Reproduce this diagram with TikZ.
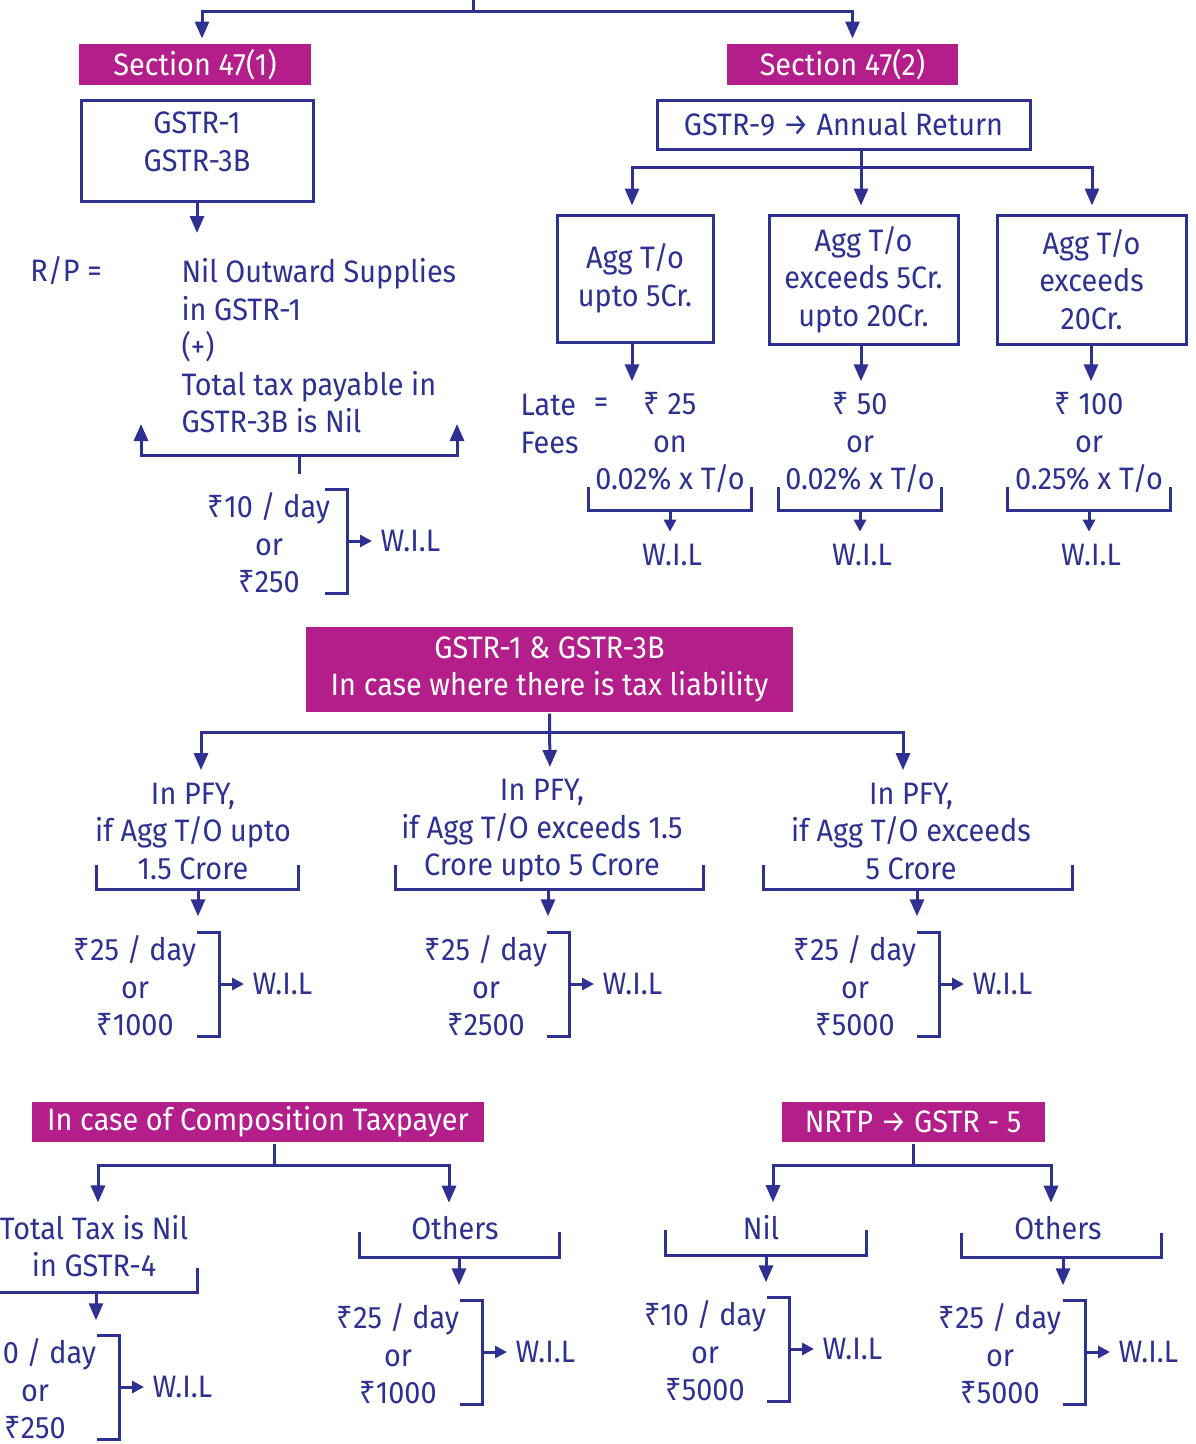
\documentclass[tikz,border=0pt]{standalone}
\usepackage{fontspec}
\setmainfont[FakeStretch=0.93]{Fira Sans}
\newfontfamily\rupeefont[FakeStretch=0.93]{Noto Sans}
\usetikzlibrary{positioning}
\usetikzlibrary{arrows.meta}
\definecolor{mblue}{RGB}{46,49,146}
\definecolor{mmag}{RGB}{179,30,138}
\newcommand{\rs}{{\rupeefont ₹}}
\newcommand{\txtsize}{\fontsize{31}{37.5}\selectfont}
\tikzset{every picture/.style={x=1pt, y=-1pt, color=mblue, line width=3pt}}
\tikzset{head/.style = {fill=mmag, text=white, align=center, inner sep=0, font=\txtsize}}
\tikzset{box/.style = {draw, align=center, inner sep=0, font=\txtsize}}
\tikzset{txt/.style = {align=center, inner sep=0, font=\txtsize}}
\tikzset{arr/.style = {-{Triangle[length=17pt, width=14pt]}}}
\tikzset{sarr/.style = {-{Triangle[length=12pt, width=12pt]}, shorten >=7pt}}
% fee block: name, x, y, bracket x, first line, last line
\newcommand{\fee}[6]{
    \node[txt] (#1) at (#2,#3) {#5\\or\\#6};
    \draw (#4-22,#3-54) -| (#4,#3+50) -- (#4-22,#3+50);
    \coordinate (#1b) at (#4,#3-2);
    \node[txt, anchor=west] (#1w) at (#4+32,#3-2) {W.I.L};
    \draw[sarr] (#1b) -- (#1w.west);
}

\begin{document}
\begin{tikzpicture}
    \useasboundingbox (0,0) rectangle (1196,1444);
    \clip (0,0) rectangle (1196,1444);

    % section 47
    \coordinate (top) at (473,0);
    \coordinate (jt) at (473,11);
    \node[head, minimum width=232pt, minimum height=41pt] (s1) at (195,64.5) {Section 47(1)};
    \node[head, minimum width=231pt, minimum height=41pt] (s2) at (842.5,64.5) {Section 47(2)};
    \draw (top) -- (jt);
    \draw[arr, shorten >=4pt] (jt) -| ([xshift=7pt]s1.north);
    \draw[arr, shorten >=4pt] (jt) -| ([xshift=10pt]s2.north);

    % left branch
    \node[box, minimum width=232pt, minimum height=101pt] (g1) at (197,150.5) {};
    \node[txt] (g1t) at (197,142) {GSTR-1\\GSTR-3B};
    \coordinate (g1e) at (197,233);
    \draw[arr] (g1) -- (g1e);
    \node[txt, anchor=west] (rp) at (29,271) {R/P =};
    \node[txt, align=left, anchor=west] (nil) at (180,346) {Nil Outward Supplies\\in GSTR-1\\(+)\\Total tax payable in\\GSTR-3B is Nil};
    \coordinate (nb) at (299,455);
    \coordinate (nl) at (141,424);
    \coordinate (nr) at (457,424);
    \draw[arr] (nb) -| (nl);
    \draw[arr] (nb) -| (nr);
    \draw (nb) -- (299,474);
    \fee{e0}{269}{543}{347}{\rs10 / day}{\rs250}

    % right branch
    \node[box, minimum width=373pt, minimum height=49pt] (g9) at (843.5,124.5) {GSTR-9 → Annual Return};
    \coordinate (j9) at (861,167);
    \node[box, minimum width=156pt, minimum height=127pt] (a1) at (635,278.5) {Agg T/o\\upto 5Cr.};
    \node[box, minimum width=189pt, minimum height=129pt] (a2) at (863.5,279.5) {Agg T/o\\exceeds 5Cr.\\upto 20Cr.};
    \node[box, minimum width=189pt, minimum height=129pt] (a3) at (1091.5,279.5) {Agg T/o\\exceeds\\20Cr.};
    \draw ([xshift=17.5pt]g9.south) -- (j9);
    \draw[arr, shorten >=8pt] (j9) -| ([xshift=-3pt]a1.north);
    \draw[arr, shorten >=8pt] (j9) -- ([xshift=-2.5pt]a2.north);
    \draw[arr, shorten >=8pt] (j9) -| ([xshift=0.5pt]a3.north);

    \node[txt, align=left, anchor=west] (late) at (519,424) {Late\\Fees};
    \node[txt] (eq) at (601,405) {=};
    \node[txt] (f1) at (670,443) {\rs\ 25\\on\\0.02\% x T/o};
    \node[txt] (f2) at (860,443) {\rs\ 50\\or\\0.02\% x T/o};
    \node[txt] (f3) at (1089,443) {\rs\ 100\\or\\0.25\% x T/o};
    \draw[arr, shorten >=10pt] ([xshift=-3pt]a1.south) -- ([xshift=-3pt]a1.south |- f1.north);
    \draw[arr, shorten >=10pt] ([xshift=-2.5pt]a2.south) -- ([xshift=-2.5pt]a2.south |- f2.north);
    \draw[arr, shorten >=10pt] ([xshift=-0.5pt]a3.south) -- ([xshift=-0.5pt]a3.south |- f3.north);

    \node[txt] (w1) at (672,555) {W.I.L};
    \node[txt] (w2) at (862,555) {W.I.L};
    \node[txt] (w3) at (1091,555) {W.I.L};
    \coordinate (b1) at (670,510);
    \coordinate (b2) at (860,510);
    \coordinate (b3) at (1089,510);
    \draw (588,487) |- (751,510) -- (751,487);
    \draw (778,487) |- (941,510) -- (941,487);
    \draw (1007,487) |- (1170,510) -- (1170,487);
    \draw[sarr, shorten >=11pt] (b1) -- (b1 |- w1.north);
    \draw[sarr, shorten >=11pt] (b2) -- (b2 |- w2.north);
    \draw[sarr, shorten >=11pt] (b3) -- (b3 |- w3.north);

    % tax liability
    \node[head, minimum width=487pt, minimum height=85pt] (m) at (549.5,669.5) {GSTR-1 \& GSTR-3B\\In case where there is tax liability};
    \coordinate (jm) at (550,732);
    \node[txt] (p1) at (193,831) {In PFY,\\if Agg T/O upto\\1.5 Crore};
    \node[txt] (p2) at (542,831) {In PFY,\\if Agg T/O exceeds 1.5\\Crore upto 5 Crore};
    \node[txt] (p3) at (911,831) {In PFY,\\if Agg T/O exceeds\\5 Crore};
    \draw[arr, shorten >=11pt] (m.south) -- ([xshift=8pt]p2.north);
    \draw[arr, shorten >=11pt] (jm) -| ([xshift=8pt]p1.north);
    \draw[arr, shorten >=11pt] (jm) -| ([xshift=-8pt]p3.north);
    \draw (96,865) |- (298,889) -- (298,865);
    \draw (395,865) |- (703,889) -- (703,865);
    \draw (763,865) |- (1072,889) -- (1072,865);
    \coordinate (q1) at (198,889);
    \coordinate (q2) at (548,889);
    \coordinate (q3) at (917,889);
    \fee{e1}{135}{986}{219}{\rs25 / day}{\rs1000}
    \fee{e2}{486}{986}{569}{\rs25 / day}{\rs2500}
    \fee{e3}{855}{986}{939}{\rs25 / day}{\rs5000}
    \draw[arr, shorten >=18pt] (q1) -- (q1 |- e1.north);
    \draw[arr, shorten >=18pt] (q2) -- (q2 |- e2.north);
    \draw[arr, shorten >=18pt] (q3) -- (q3 |- e3.north);

    % composition taxpayer
    \node[head, minimum width=452pt, minimum height=40pt] (c) at (258,1122) {In case of Composition Taxpayer};
    \coordinate (jc) at (274,1165);
    \node[txt] (t1) at (94,1246) {Total Tax is Nil\\in GSTR-4};
    \node[txt] (t2) at (455,1228) {Others};
    \draw ([xshift=16pt]c.south) -- (jc);
    \draw[arr, shorten >=11pt] (jc) -| ([xshift=4pt]t1.north);
    \draw[arr, shorten >=12pt] (jc) -| ([xshift=-6pt]t2.north);
    \draw (197,1268) |- (-5,1292);
    \draw (359,1232) |- (559,1257) -- (559,1232);
    \coordinate (r1) at (96,1292);
    \coordinate (r2) at (459,1257);
    \fee{e4}{35}{1389}{119}{\rs10 / day}{\rs250}
    \fee{e5}{398}{1354}{482}{\rs25 / day}{\rs1000}
    \draw[arr, shorten >=17pt] (r1) -- (r1 |- e4.north);
    \draw[arr, shorten >=17pt] (r2) -- (r2 |- e5.north);

    % NRTP
    \node[head, minimum width=263pt, minimum height=40pt] (n) at (913,1122) {NRTP → GSTR - 5};
    \coordinate (jn) at (913,1165);
    \node[txt] (t3) at (761,1228) {Nil};
    \node[txt] (t4) at (1058,1228) {Others};
    \draw (n.south) -- (jn);
    \draw[arr, shorten >=12pt] (jn) -| ([xshift=12pt]t3.north);
    \draw[arr, shorten >=12pt] (jn) -| ([xshift=-7pt]t4.north);
    \draw (665,1230) |- (866,1255) -- (866,1230);
    \draw (961,1233) |- (1161,1257) -- (1161,1233);
    \coordinate (r3) at (766,1255);
    \coordinate (r4) at (1063,1257);
    \fee{e6}{705}{1351}{789}{\rs10 / day}{\rs5000}
    \fee{e7}{1000}{1354}{1085}{\rs25 / day}{\rs5000}
    \draw[arr, shorten >=17pt] (r3) -- (r3 |- e6.north);
    \draw[arr, shorten >=17pt] (r4) -- (r4 |- e7.north);
\end{tikzpicture}
\end{document}
